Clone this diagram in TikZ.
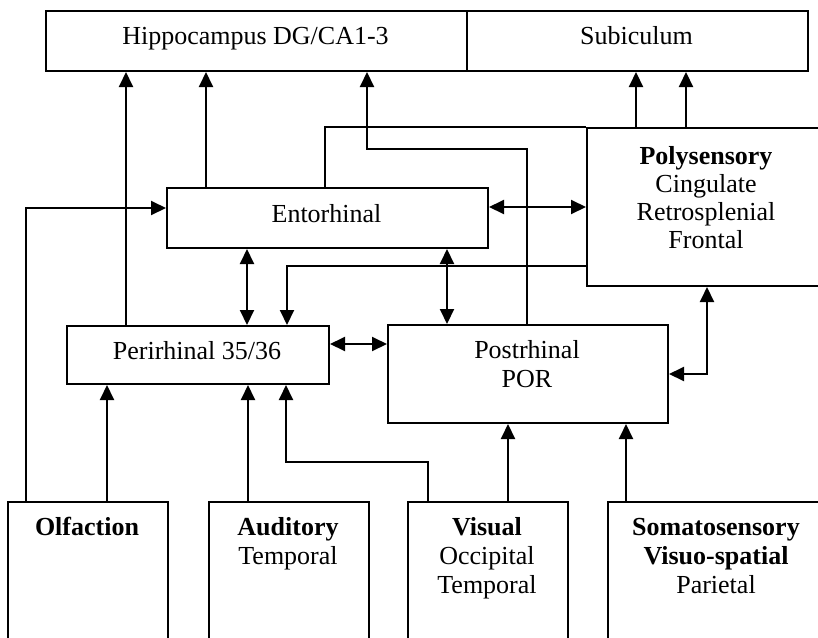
\documentclass[tikz,border=0pt]{standalone}
\usepackage{fontspec}
\setmainfont{Liberation Serif}
\usetikzlibrary{arrows.meta}
\newcommand{\stk}[1]{\begin{tabular}[t]{@{}c@{}}#1\end{tabular}}
\begin{document}
\begin{tikzpicture}[x=1pt,y=-1pt,
  box/.style={draw, line width=2pt, rectangle, inner sep=0pt, anchor=north west},
  txt/.style={anchor=base, inner sep=0pt, font=\fontsize{26}{29}\selectfont},
  conn/.style={line width=2pt},
  arr/.style={conn, -{Triangle[length=15pt,width=14pt]}},
  darr/.style={conn, {Triangle[length=15pt,width=14pt]}-{Triangle[length=15pt,width=14pt]}}]
\useasboundingbox (0,0) rectangle (818,637);
\fill[white] (0,0) rectangle (818,637);
\clip (0,0) rectangle (818,637);
% boxes
\node[box, minimum width=421pt, minimum height=60pt] (hip) at (45,10) {};
\node[box, minimum width=341pt, minimum height=60pt] (sub) at (466,10) {};
\node[box, minimum width=321pt, minimum height=60pt] (ent) at (166,187) {};
\node[box, minimum width=262pt, minimum height=58pt] (per) at (66,325) {};
\node[box, minimum width=280pt, minimum height=98pt] (post) at (387,324) {};
\node[box, minimum width=240pt, minimum height=158pt] (poly) at (586,127) {};
\node[box, minimum width=160pt, minimum height=180pt] (olf) at (7,501) {};
\node[box, minimum width=160pt, minimum height=180pt] (aud) at (208,501) {};
\node[box, minimum width=160pt, minimum height=180pt] (vis) at (407,501) {};
\node[box, minimum width=218pt, minimum height=180pt] (som) at (607,501) {};
% texts
\node[txt] (hipT) at (255.5,44) {Hippocampus DG/CA1-3};
\node[txt] (subT) at (636.5,44) {Subiculum};
\node[txt] (entT) at (326.5,222) {Entorhinal};
\node[txt] (perT) at (197,359) {Perirhinal 35/36};
\node[txt] (postT) at (527,358) {\stk{Postrhinal\\POR}};
\node[txt, font=\fontsize{26}{28.3}\selectfont] (polyT) at (706,164) {\stk{\textbf{Polysensory}\\Cingulate\\Retrosplenial\\Frontal}};
\node[txt] (olfT) at (87,535) {\stk{\textbf{Olfaction}}};
\node[txt] (audT) at (288,535) {\stk{\textbf{Auditory}\\Temporal}};
\node[txt] (visT) at (487,535) {\stk{\textbf{Visual}\\Occipital\\Temporal}};
\node[txt] (somT) at (716,535) {\stk{\textbf{Somatosensory}\\\textbf{Visuo-spatial}\\Parietal}};
% connectors to hippocampus / subiculum
\draw[arr] ([xshift=60pt]per.north west) -- ([xshift=60pt]per.north west |- hip.south);
\draw[arr] ([xshift=40pt]ent.north west) -- ([xshift=40pt]ent.north west |- hip.south);
\draw[conn] ([xshift=159pt]ent.north west) |- (poly.north west);
\draw[arr] ([xshift=140pt]post.north west) -- ++(0,-175) -| ([xshift=322pt]hip.south west);
\draw[arr] ([xshift=50pt]poly.north west) -- ([xshift=50pt]poly.north west |- sub.south);
\draw[arr] ([xshift=100pt]poly.north west) -- ([xshift=100pt]poly.north west |- sub.south);
% middle
\draw[darr] ([yshift=-20pt]ent.north east) -- ([yshift=-20pt]ent.north east -| poly.west);
\draw[arr] ([xshift=19pt]olf.north west) |- ([yshift=-21pt]ent.north west);
\draw[darr] ([xshift=81pt]ent.south west) -- ([xshift=81pt]ent.south west |- per.north);
\draw[arr] ([yshift=-139pt]poly.north west) -| ([xshift=221pt]per.north west);
\draw[darr] ([yshift=-19pt]per.north east) -- ([yshift=-19pt]per.north east -| post.west);
\draw[darr] ([xshift=281pt]ent.south west) -- ([xshift=281pt]ent.south west |- post.north);
\draw[darr] ([yshift=-50pt]post.north east) -| ([xshift=121pt]poly.south west);
% sensory inputs
\draw[arr] ([xshift=100pt]olf.north west) -- ([xshift=100pt]olf.north west |- per.south);
\draw[arr] ([xshift=40pt]aud.north west) -- ([xshift=40pt]aud.north west |- per.south);
\draw[arr] ([xshift=21pt]vis.north west) -- ++(0,-39) -| ([xshift=220pt]per.south west);
\draw[arr] ([xshift=101pt]vis.north west) -- ([xshift=101pt]vis.north west |- post.south);
\draw[arr] ([xshift=19pt]som.north west) -- ([xshift=19pt]som.north west |- post.south);
\end{tikzpicture}
\end{document}
